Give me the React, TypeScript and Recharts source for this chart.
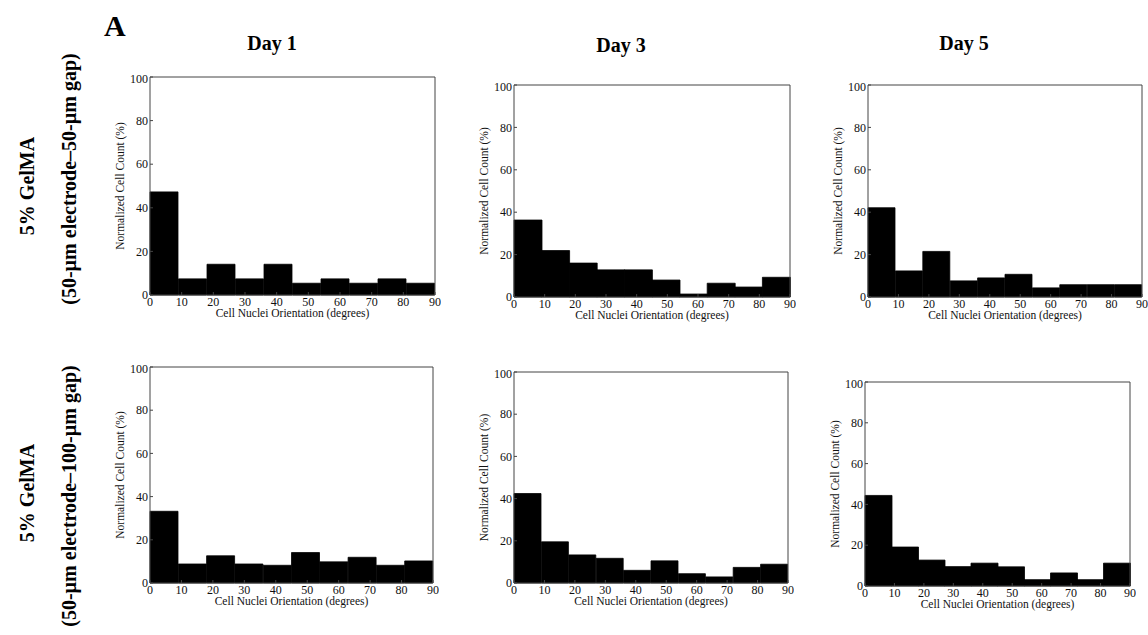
import { ComposedChart, Bar, Line, XAxis, YAxis } from 'recharts'

// 9-degree bins (centre of each bin), values in percent
const binMids = [4.5, 13.5, 22.5, 31.5, 40.5, 49.5, 58.5, 67.5, 76.5, 85.5]

const gap50Day1 = [47.3, 7.4, 14.1, 7.4, 14.1, 5.4, 7.4, 5.4, 7.4, 5.4]
const gap50Day3 = [36.3, 21.9, 16, 12.8, 12.8, 8, 1.4, 6.5, 4.7, 9.3]
const gap50Day5 = [42.1, 12.3, 21.5, 7.6, 9, 10.7, 4.3, 5.8, 5.8, 5.8]
const gap100Day1 = [33.2, 8.8, 12.6, 8.8, 8.2, 14.1, 9.8, 11.9, 8.2, 10.2]
const gap100Day3 = [42.4, 19.5, 13.3, 11.7, 6, 10.5, 4.4, 2.9, 7.4, 8.9]
const gap100Day5 = [44.4, 19.1, 12.7, 9.5, 11.2, 9.4, 3.1, 6.4, 3.1, 11.2]

const xTicks = [0, 10, 20, 30, 40, 50, 60, 70, 80, 90]
const yTicks = [0, 20, 40, 60, 80, 100]

const dayTitles = ['Day 1', 'Day 3', 'Day 5']
const rowTitles = ['5% GelMA', '5% GelMA']
const rowSubtitles = ['(50-µm electrode–50-µm gap)', '(50-µm electrode–100-µm gap)']

const serif = '"Liberation Serif", "Times New Roman", serif'

const toRows = (vals: number[]) => binMids.map((mid, i) => ({ mid, pct: vals[i] }))

function Hist({ values, left, top, w, h }: { values: number[]; left: number; top: number; w: number; h: number }) {
  const yw = 40
  const xh = 22
  const tickStyle = { fill: '#111', fontSize: 12, fontFamily: serif }
  const labelStyle = { fill: '#111', fontSize: 11.5, fontFamily: serif }
  return (
    <div style={{ position: 'absolute', left: left - yw, top: top - 7 }}>
      <ComposedChart
        width={yw + w + 1 + 6}
        height={6 + 1 + h + xh + 6}
        data={toRows(values)}
        margin={{ top: 6, right: 6, left: 0, bottom: 6 }}
        barCategoryGap={0}
        barGap={0}
      >
        <XAxis
          xAxisId="deg"
          dataKey="mid"
          type="number"
          domain={[0, 90]}
          ticks={xTicks}
          height={xh}
          tickSize={-3}
          tickMargin={5}
          stroke="#444"
          tick={tickStyle}
          label={{ value: 'Cell Nuclei Orientation (degrees)', position: 'insideBottom', offset: 0, style: labelStyle }}
        />
        <XAxis
          xAxisId="top"
          dataKey="mid"
          orientation="top"
          type="number"
          domain={[0, 90]}
          ticks={xTicks}
          height={1}
          mirror
          tick={false}
          tickSize={3}
          stroke="#444"
        />
        <YAxis
          yAxisId="left"
          domain={[0, 100]}
          ticks={yTicks}
          width={yw}
          tickSize={-3}
          tickMargin={5}
          stroke="#444"
          tick={tickStyle}
          label={{
            value: 'Normalized Cell Count (%)',
            angle: -90,
            position: 'insideLeft',
            offset: 10,
            style: { ...labelStyle, textAnchor: 'middle' },
          }}
        />
        <YAxis
          yAxisId="right"
          orientation="right"
          domain={[0, 100]}
          ticks={yTicks}
          width={1}
          mirror
          tick={false}
          tickSize={3}
          stroke="#444"
        />
        <Bar
          xAxisId="deg"
          yAxisId="left"
          dataKey="pct"
          fill="#000"
          stroke="#000"
          strokeWidth={0.8}
          isAnimationActive={false}
        />
        {/* invisible series so the top / right frame axes get drawn */}
        <Line
          xAxisId="top"
          yAxisId="right"
          dataKey="pct"
          stroke="none"
          dot={false}
          activeDot={false}
          isAnimationActive={false}
        />
      </ComposedChart>
    </div>
  )
}

const bold = { position: 'absolute' as const, fontFamily: serif, fontWeight: 700, color: '#000', whiteSpace: 'nowrap' as const }

function Centered({ text, x, y, size, rotate }: { text: string; x: number; y: number; size: number; rotate?: boolean }) {
  return (
    <div
      style={{
        ...bold,
        left: x,
        top: y,
        fontSize: size,
        lineHeight: `${size}px`,
        transform: `translate(-50%, -50%)${rotate ? ' rotate(-90deg)' : ''}`,
      }}
    >
      {text}
    </div>
  )
}

export default function App() {
  return (
    <div style={{ position: 'absolute', left: 0, top: 0, width: 1148, height: 635, background: '#fff', overflow: 'hidden' }}>
      <div style={{ ...bold, left: 104, top: 11, fontSize: 30, lineHeight: '30px' }}>A</div>

      <Centered text={dayTitles[0]} x={272} y={43} size={20} />
      <Centered text={dayTitles[1]} x={621} y={45} size={20} />
      <Centered text={dayTitles[2]} x={964} y={43} size={20} />

      <Centered text={rowTitles[0]} x={27} y={186} size={20} rotate />
      <Centered text={rowSubtitles[0]} x={69} y={179} size={20} rotate />
      <Centered text={rowTitles[1]} x={27} y={493} size={20} rotate />
      <Centered text={rowSubtitles[1]} x={69} y={496} size={20} rotate />

      <Hist values={gap50Day1} left={150} top={78} w={284} h={217} />
      <Hist values={gap50Day3} left={514} top={86} w={275} h={211} />
      <Hist values={gap50Day5} left={868} top={86} w={273} h={211} />
      <Hist values={gap100Day1} left={150} top={368} w={282} h={215} />
      <Hist values={gap100Day3} left={514} top={373} w={273} h={210} />
      <Hist values={gap100Day5} left={865} top={383} w={264} h={203} />
    </div>
  )
}
